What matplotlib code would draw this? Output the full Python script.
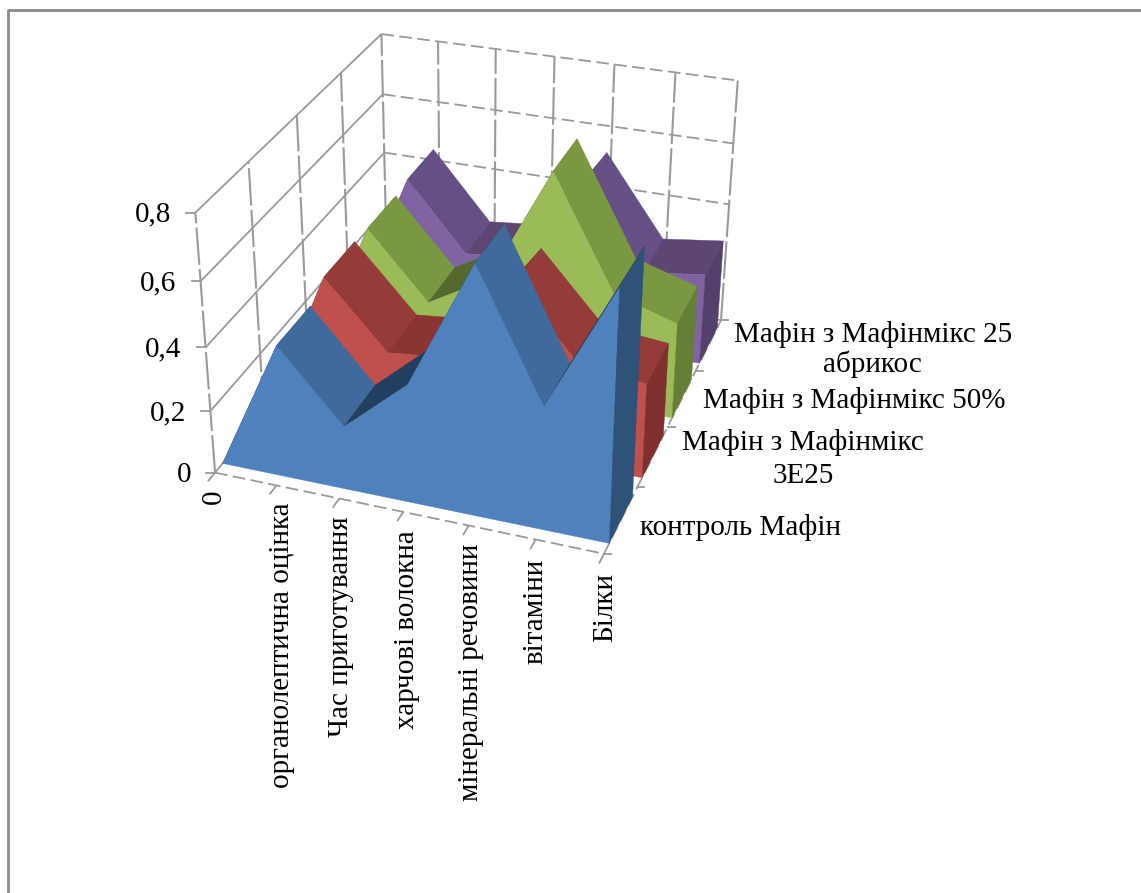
import numpy as np
import matplotlib
matplotlib.use('Agg')
import matplotlib.pyplot as plt
from matplotlib.patches import Polygon

W, H = 1141, 893

categories = ['0', 'органолептична оцінка', 'Час приготування', 'харчові волокна',
              'мінеральні речовини', 'вітаміни', 'Білки']
series_names = ['контроль Мафін', 'Мафін з Мафінмікс\n3Е25',
                'Мафін з Мафінмікс 50%', 'Мафін з Мафінмікс 25\nабрикос']
z_ticks = [0, 0.2, 0.4, 0.6, 0.8]
z_labels = ['0', '0,2', '0,4', '0,6', '0,8']

control = [0, 0.415, 0.20, 0.37, 0.76, 0.38, 0.76]
mix_3e25 = [0, 0.455, 0.25, 0.27, 0.53, 0.32, 0.30]
mix_50 = [0, 0.45, 0.24, 0.35, 0.72, 0.37, 0.31]
apricot = [0, 0.46, 0.24, 0.26, 0.535, 0.275, 0.30]
values = [control, mix_3e25, mix_50, apricot]

# front, descending top, rising top, right end
colors = [('#4F81BD', '#3F6A9B', '#233F60', '#2F5279'),
          ('#C0504D', '#953B39', '#8A3533', '#7F2F2E'),
          ('#9BBB59', '#7A9742', '#55692F', '#667F36'),
          ('#8064A2', '#654F84', '#5E4673', '#54406D')]

# box corners (category, series, value) -> pixel, used to solve the 3d view
calib = [((0, 0, 0), (213, 471)), ((6, 0, 0), (603, 555)), ((6, 4, 0), (720, 318)),
         ((0, 4, 0), (387, 268)), ((0, 0, 0.8), (196, 213)), ((0, 4, 0.8), (381, 33)),
         ((6, 4, 0.8), (738, 83)), ((0, 0, 0.4), (205, 347)), ((0, 4, 0.4), (383, 151)),
         ((6, 4, 0.4), (729, 205)), ((3, 4, 0.8), (554, 54)), ((0, 2, 0.8), (298, 117)),
         ((3, 0, 0), (403, 512)), ((6, 2, 0), (670, 426)), ((0, 2, 0), (311, 359))]


def solve_view(points):
    rows = []
    for (x, y, z), (u, v) in points:
        rows.append([x, y, z, 1, 0, 0, 0, 0, -u*x, -u*y, -u*z])
        rows.append([0, 0, 0, 0, x, y, z, 1, -v*x, -v*y, -v*z])
    rhs = np.array([p[1] for p in points], dtype=float).ravel()
    m = np.linalg.lstsq(np.array(rows, dtype=float), rhs, rcond=None)[0]
    return np.append(m, 1).reshape(3, 4)


view = solve_view(calib)


def proj(x, y, z):
    p = view @ np.array([x, y, z, 1.0])
    return p[0]/p[2], p[1]/p[2]


fig = plt.figure(figsize=(W/100, H/100), dpi=100)
ax = fig.add_axes([0, 0, 1, 1])
ax.set_xlim(0, W)
ax.set_ylim(H, 0)
ax.axis('off')

plt.rcParams['font.family'] = ['Liberation Serif', 'DejaVu Serif']
GRID = '#9A9A9A'
FS = 21


def line3(a, b, **kw):
    pa, pb = proj(*a), proj(*b)
    ax.plot([pa[0], pb[0]], [pa[1], pb[1]], color=GRID, solid_capstyle='butt', **kw)


# chart frame
ax.plot([8, 8, W], [H, 10, 10], color='#8A8A8A', lw=2)

dash = (0, (7, 3))
vdash = (0, (18, 2))
for z in z_ticks:
    line3((0, 0, z), (0, 4, z), lw=1.3)
    line3((0, 4, z), (6, 4, z), lw=1.3, linestyle=dash)
    pa = proj(0, 0, z)
    ax.plot([pa[0], pa[0]-9], [pa[1], pa[1]], color=GRID, lw=1.3)
for y in range(5):
    line3((0, y, 0), (0, y, 0.8), lw=1.5, linestyle=vdash)
for x in range(1, 7):
    line3((x, 4, 0), (x, 4, 0.8), lw=1.5, linestyle=vdash)
line3((0, 0, 0), (6, 0, 0), lw=1.3, linestyle=dash)
line3((6, 0, 0), (6, 4, 0), lw=1.3, linestyle=dash)
for x in range(7):
    line3((x, 0, 0), (x, -0.14, 0), lw=1.3)
for y in range(5):
    pa = proj(6, y, 0)
    ax.plot([pa[0], pa[0]+7], [pa[1], pa[1]], color=GRID, lw=1.3)

# areas, back to front
y_in, y_out = 0.15, 0.85
for i in range(3, -1, -1):
    vals = values[i]
    front, down, up, end = colors[i]
    y0, y1 = i + y_in, i + y_out
    for k in range(len(vals)-1):
        c = up if vals[k+1] > vals[k] else down
        poly = [proj(k, y0, vals[k]), proj(k, y1, vals[k]),
                proj(k+1, y1, vals[k+1]), proj(k+1, y0, vals[k+1])]
        ax.add_patch(Polygon(poly, closed=True, fc=c, ec=c, lw=0.3, zorder=3))
    face = [proj(k, y0, v) for k, v in enumerate(vals)]
    face += [proj(6, y0, 0), proj(0, y0, 0)]
    ax.add_patch(Polygon(face, closed=True, fc=front, ec=front, lw=0.3, zorder=3))
    cap = [proj(6, y0, 0), proj(6, y1, 0), proj(6, y1, vals[-1]), proj(6, y0, vals[-1])]
    ax.add_patch(Polygon(cap, closed=True, fc=end, ec=end, lw=0.3, zorder=3))

# labels
for z, s in zip(z_ticks, z_labels):
    px = proj(0, 0, z)
    ax.text(px[0]-24, px[1]+2, s, ha='right', va='center', fontsize=FS)
cat_dx = [14, 20, 16, 17, 15, 11, 12]
for k, s in enumerate(categories):
    px = proj(k, -0.3, 0)
    ax.text(px[0]+cat_dx[k], px[1]-2, s, rotation=90, ha='center', va='top', fontsize=FS)
dx = [2, 13, 5, 10]
dy = [4, 0, -1, 2]
spacing = [1.1, 1.35, 1.1, 1.1]
for i, s in enumerate(series_names):
    px = proj(6.25, i+0.5, 0)
    ax.text(px[0]+dx[i], px[1]+dy[i], s, ha='left', va='center',
            multialignment='center', fontsize=FS, linespacing=spacing[i])

fig.savefig('out.png', dpi=100)
